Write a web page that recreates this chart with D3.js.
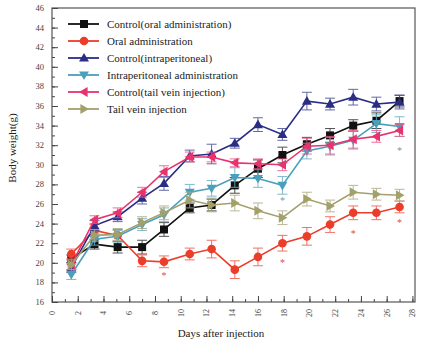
<!DOCTYPE html>
<html>
<head>
<meta charset="utf-8">
<script src="https://cdn.jsdelivr.net/npm/d3@7"></script>
<style>
    body { margin: 0; background: #fff; }
    svg { display: block; }
    svg text { font-family: "Liberation Serif", "Times New Roman", "DejaVu Serif", serif; }
</style>
</head>
<body>
<svg id="chart" width="426" height="343"></svg>
<script>
/*
    body weight chart
 */

const days = [1.5, 3.3, 5.1, 7.0, 8.7, 10.7, 12.4, 14.2, 16.0, 17.9, 19.8, 21.6, 23.4, 25.2, 27.0];

const controlOral = [20.4, 21.9, 21.6, 21.6, 23.4, 25.6, 25.9, 27.9, 29.6, 31.0, 32.1, 33.0, 34.0, 34.5, 36.5];
const controlOralErr = [0.4, 0.5, 0.6, 0.7, 0.7, 0.5, 0.6, 0.8, 0.9, 0.8, 0.7, 0.7, 0.6, 0.8, 0.6];

const oral = [20.9, 23.3, 22.8, 20.2, 20.1, 20.9, 21.4, 19.3, 20.6, 22.0, 22.7, 23.9, 25.1, 25.1, 25.7];
const oralErr = [0.5, 0.6, 0.6, 0.6, 0.6, 0.6, 0.9, 0.9, 0.9, 0.8, 0.9, 0.8, 0.7, 0.7, 0.6];

const controlIp = [19.5, 23.8, 24.7, 26.6, 28.1, 30.9, 31.1, 32.2, 34.1, 33.1, 36.5, 36.2, 36.9, 36.2, 36.4];
const controlIpErr = [0.5, 0.5, 0.5, 0.6, 0.7, 0.6, 1.0, 0.5, 0.7, 0.6, 0.9, 0.6, 0.8, 0.7, 0.7];

const ip = [18.8, 22.4, 22.7, 23.9, 24.9, 27.2, 27.6, 28.7, 28.6, 27.9, 31.4, 31.9, 32.5, 34.2, 33.9];
const ipErr = [0.5, 0.6, 0.6, 0.6, 0.7, 0.8, 0.8, 1.0, 0.9, 0.9, 0.8, 0.9, 0.9, 0.9, 1.0];

const controlTail = [19.8, 24.4, 25.1, 27.2, 29.3, 30.8, 30.8, 30.2, 30.1, 30.0, 31.9, 32.0, 32.6, 32.9, 33.5];
const controlTailErr = [0.5, 0.4, 0.5, 0.5, 0.6, 0.5, 0.5, 0.4, 0.5, 0.6, 0.8, 0.9, 0.9, 0.6, 0.6];

const tail = [19.8, 22.8, 22.9, 24.1, 25.1, 26.4, 25.9, 26.1, 25.3, 24.6, 26.5, 25.8, 27.2, 27.0, 26.9];
const tailErr = [0.5, 0.6, 0.6, 0.6, 0.7, 0.8, 0.7, 0.8, 0.8, 0.7, 0.7, 0.6, 0.7, 0.6, 0.6];

const seriesNames = [
    "Control(oral administration)",
    "Oral administration",
    "Control(intraperitoneal)",
    "Intraperitoneal administration",
    "Control(tail vein injection)",
    "Tail vein injection"
];

// significance marks: day index and value where the asterisk sits
const starsOral = [[4, 18.75], [9, 20.1], [12, 23.0], [14, 24.2]];
const starsIp = [[9, 26.4], [14, 31.5]];

const xTicks = d3.range(0, 29, 2);
const yTicks = d3.range(16, 47, 2);

const series = [
    { name: seriesNames[0], values: controlOral, err: controlOralErr, color: "#111111", bar: "#333333", symbol: "square" },
    { name: seriesNames[1], values: oral, err: oralErr, color: "#ec3d2a", bar: "#ee5a4a", symbol: "circle" },
    { name: seriesNames[2], values: controlIp, err: controlIpErr, color: "#2a2d86", bar: "#4a4d9a", symbol: "up" },
    { name: seriesNames[3], values: ip, err: ipErr, color: "#4a9fbc", bar: "#6aaec4", symbol: "down" },
    { name: seriesNames[4], values: controlTail, err: controlTailErr, color: "#e8336f", bar: "#ec5a88", symbol: "left" },
    { name: seriesNames[5], values: tail, err: tailErr, color: "#a3a06c", bar: "#aeab80", symbol: "right" }
];

const svg = d3.select("#chart");
const plot = { left: 52, right: 415, top: 8, bottom: 302 };

const x = d3.scaleLinear().domain([0, 28.2]).range([plot.left, plot.right]);
const y = d3.scaleLinear().domain([16, 46]).range([plot.bottom, plot.top]);

function symbolPath(kind) {
    const s = 4;
    switch (kind) {
        case "square": return `M${-s},${-s}H${s}V${s}H${-s}Z`;
        case "circle": return "M-4.3,0A4.3,4.3 0 1,0 4.3,0A4.3,4.3 0 1,0 -4.3,0Z";
        case "up": return "M0,-5L5,3.6L-5,3.6Z";
        case "down": return "M0,5L5,-3.6L-5,-3.6Z";
        case "left": return "M-5,0L3.6,-5L3.6,5Z";
        default: return "M5,0L-3.6,-5L-3.6,5Z";
    }
}

// frame
svg.append("rect")
    .attr("x", plot.left)
    .attr("y", plot.top)
    .attr("width", plot.right - plot.left)
    .attr("height", plot.bottom - plot.top)
    .attr("fill", "none")
    .attr("stroke", "#555")
    .attr("stroke-width", 1.2);

// x axis, ticks inward
const xAxis = svg.append("g").attr("transform", `translate(0,${plot.bottom})`);
xAxis.call(d3.axisBottom(x).tickValues(d3.range(0, 29, 1)).tickSize(-3).tickFormat(""))
    .call(g => g.select(".domain").remove());
xAxis.append("g")
    .call(d3.axisBottom(x).tickValues(xTicks).tickSize(-6).tickFormat(""))
    .call(g => g.select(".domain").remove());
xAxis.selectAll("line").attr("stroke", "#444");
xAxis.selectAll(".xlabel")
    .data(xTicks)
    .join("text")
    .attr("class", "xlabel")
    .attr("transform", d => `translate(${x(d) + 3},${11}) rotate(-90)`)
    .attr("text-anchor", "middle")
    .attr("font-size", 8)
    .attr("fill", "#444")
    .text(d => d);

// y axis, ticks inward
const yAxis = svg.append("g").attr("transform", `translate(${plot.left},0)`);
yAxis.call(d3.axisLeft(y).tickValues(d3.range(16, 47, 1)).tickSize(-3).tickFormat(""))
    .call(g => g.select(".domain").remove());
yAxis.append("g")
    .call(d3.axisLeft(y).tickValues(yTicks).tickSize(-6).tickFormat(""))
    .call(g => g.select(".domain").remove());
yAxis.selectAll("line").attr("stroke", "#444");
yAxis.selectAll(".ylabel")
    .data(yTicks)
    .join("text")
    .attr("class", "ylabel")
    .attr("x", -8)
    .attr("y", d => y(d) + 3)
    .attr("text-anchor", "end")
    .attr("font-size", 8.5)
    .attr("fill", "#444")
    .text(d => d);

svg.append("text")
    .attr("x", 221)
    .attr("y", 337)
    .attr("text-anchor", "middle")
    .attr("font-size", 11)
    .attr("fill", "#222")
    .text("Days after injection");

svg.append("text")
    .attr("transform", "translate(16,148) rotate(-90)")
    .attr("text-anchor", "middle")
    .attr("font-size", 11)
    .attr("fill", "#222")
    .text("Body weight(g)");

// series
const line = d3.line().x((d, i) => x(days[i])).y(d => y(d));

series.forEach(s => {
    const g = svg.append("g");
    const bars = g.selectAll(".err")
        .data(s.values)
        .join("g")
        .attr("stroke", s.bar)
        .attr("stroke-width", 1)
        .attr("opacity", 0.85);
    bars.append("line")
        .attr("x1", (d, i) => x(days[i]))
        .attr("x2", (d, i) => x(days[i]))
        .attr("y1", (d, i) => y(d - s.err[i]))
        .attr("y2", (d, i) => y(d + s.err[i]));
    [-1, 1].forEach(sign => {
        bars.append("line")
            .attr("x1", (d, i) => x(days[i]) - 5)
            .attr("x2", (d, i) => x(days[i]) + 5)
            .attr("y1", (d, i) => y(d + sign * s.err[i]))
            .attr("y2", (d, i) => y(d + sign * s.err[i]));
    });
    g.append("path")
        .datum(s.values)
        .attr("d", line)
        .attr("fill", "none")
        .attr("stroke", s.color)
        .attr("stroke-width", 1.6);
    g.selectAll(".pt")
        .data(s.values)
        .join("path")
        .attr("transform", (d, i) => `translate(${x(days[i])},${y(d)})`)
        .attr("d", symbolPath(s.symbol))
        .attr("fill", s.color);
});

function drawStars(list, color) {
    svg.append("g")
        .selectAll("text")
        .data(list)
        .join("text")
        .attr("x", d => x(days[d[0]]))
        .attr("y", d => y(d[1]) + 4)
        .attr("text-anchor", "middle")
        .attr("font-size", 10)
        .attr("fill", color)
        .text("*");
}
drawStars(starsOral, "#ec4a3a");
drawStars(starsIp, "#7a9aa8");

// legend
const legend = svg.append("g").attr("transform", "translate(68,24)");
series.forEach((s, i) => {
    const row = legend.append("g").attr("transform", `translate(0,${i * 17})`);
    row.append("line")
        .attr("x1", 0)
        .attr("x2", 31)
        .attr("stroke", s.color)
        .attr("stroke-width", 1.8);
    row.append("path")
        .attr("transform", "translate(16,0)")
        .attr("d", symbolPath(s.symbol))
        .attr("fill", s.color);
    row.append("text")
        .attr("x", 39)
        .attr("y", 4)
        .attr("font-size", 11)
        .attr("fill", "#222")
        .text(s.name);
});
</script>
</body>
</html>
